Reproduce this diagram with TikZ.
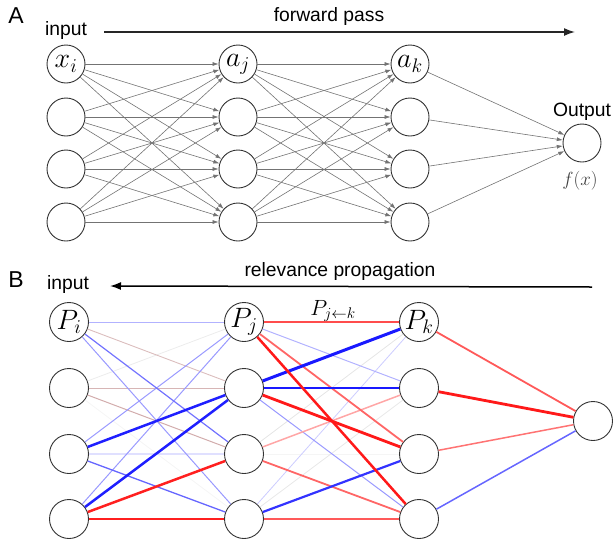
\RequirePackage{fix-cm}
\documentclass[tikz,border=0pt]{standalone}
\usepackage[no-math]{fontspec}
\setmainfont{Liberation Sans}
\usetikzlibrary{arrows.meta}

\tikzset{
  neuron/.style={circle,draw=black!80,line width=0.9pt,fill=white,minimum size=38pt,inner sep=0pt,font=\fontsize{28}{28}\selectfont},
  fwd/.style={draw=black!55,line width=0.6pt,-{Latex[length=6pt,width=4pt]}},
  bigarrow/.style={draw=black!85,line width=1.5pt,-{Latex[length=11pt,width=8pt]}},
  lbl/.style={font=\fontsize{19.3}{22}\selectfont},
  panel/.style={font=\fontsize{23}{26}\selectfont},
}

\begin{document}
\begin{tikzpicture}[x=1pt,y=-1pt,>=latex]
  \useasboundingbox (0,0) rectangle (613,544);

  % A: forward pass
  \node[panel] (pA) at (16,16) {A};
  \node[lbl] (inA) at (66,31) {input};
  \node[lbl] (fwdtxt) at (329,17) {forward pass};
  \coordinate (fwdstart) at (104,32);
  \coordinate (fwdend) at (575,32);
  \draw[bigarrow] (fwdstart) -- (fwdend);

  \node[neuron] (ai1) at (66,64) {$x_i$};
  \node[neuron] (aj1) at (238,64) {$a_j$};
  \node[neuron] (ak1) at (410,64) {$a_k$};
  \foreach \r/\y in {2/117,3/169,4/222}{
    \node[neuron] (ai\r) at (66,\y) {};
    \node[neuron] (aj\r) at (238,\y) {};
    \node[neuron] (ak\r) at (410,\y) {};
  }
  \node[neuron] (aout) at (582,143) {};
  \node[lbl] (outtxt) at (582,112) {Output};
  \node[font=\fontsize{19}{19}\selectfont,text=black!75] (fx) at (580,181) {$f(x)$};

  \foreach \p in {1,...,4}{
    \foreach \q in {1,...,4}{
      \draw[fwd] (ai\p) -- (aj\q);
      \draw[fwd] (aj\p) -- (ak\q);
    }
    \draw[fwd] (ak\p) -- (aout);
  }

  % B: relevance propagation
  \node[panel] (pB) at (16,280) {B};
  \node[lbl] (inB) at (68,285) {input};
  \node[lbl] (reltxt) at (340,272) {relevance propagation};
  \coordinate (relstart) at (592,287);
  \coordinate (relend) at (110,286);
  \draw[bigarrow,draw=black] (relstart) -- (relend);

  \node[neuron,minimum size=39pt] (bi1) at (69,322) {$P_i$};
  \node[neuron,minimum size=39pt] (bj1) at (244,322) {$P_j$};
  \node[neuron,minimum size=39pt] (bk1) at (419,322) {$P_k$};
  \foreach \r/\y in {2/388,3/454,4/519}{
    \node[neuron,minimum size=39pt] (bi\r) at (69,\y) {};
    \node[neuron,minimum size=39pt] (bj\r) at (244,\y) {};
    \node[neuron,minimum size=39pt] (bk\r) at (419,\y) {};
  }
  \node[neuron,minimum size=39pt] (bout) at (593,421) {};
  \node[font=\fontsize{22}{22}\selectfont] (pjk) at (333,311) {$P_{j\leftarrow k}$};

  \foreach \a/\b/\c/\w in {2/1/gray!15/0.8, 2/4/gray!8/0.8, 1/2/red!30!gray!40/0.9,
      2/2/red!30!gray!45/1, 2/3/red!30!gray!50/1, 3/3/blue!12/1.8, 1/1/blue!30/1,
      1/4/blue!40/1, 3/1/blue!40/1, 4/1/blue!40/1, 1/3/blue!55/1.2, 3/4/blue!60/1.3,
      3/2/blue!88/2.5, 4/2/blue!88/2.5, 4/3/red!88/2.5, 4/4/red!88/2.5}
    \draw[\c,line width=\w pt] (bi\a) -- (bj\b);

  \foreach \a/\b/\c/\w in {3/3/gray!8/0.8, 3/1/gray!20/0.8, 4/2/gray!18/0.8, 4/1/blue!20/0.8,
      1/2/blue!30/1, 2/4/blue!40/1, 3/2/red!35/1.5, 1/3/red!60/1.8, 3/4/red!60/1.8,
      4/4/red!65/1.6, 1/1/red!70/2, 4/3/blue!80/2.2, 2/2/blue!90/2.5, 2/1/blue!90/3,
      2/3/red!90/2.8, 1/4/red!90/2.5}
    \draw[\c,line width=\w pt] (bj\a) -- (bk\b);

  \foreach \a/\c/\w in {1/red!65/1.8, 2/red!90/2.8, 3/red!55/1.5, 4/blue!60/1.5}
    \draw[\c,line width=\w pt] (bk\a) -- (bout);
\end{tikzpicture}
\end{document}
